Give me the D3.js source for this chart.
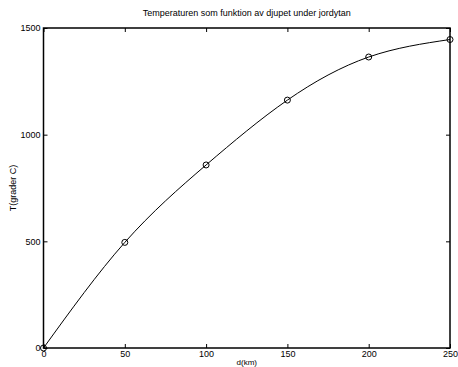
<!DOCTYPE html>
<html>
<head>
<meta charset="utf-8">
<script src="https://cdn.jsdelivr.net/npm/d3@7"></script>
<style>
  body { margin: 0; background: #fff; }
  svg { display: block; font-family: "Liberation Sans", Arial, sans-serif; }
</style>
</head>
<body>
<div id="chart"></div>
<script>
// depth (km) and temperature (grader C)
let depth = [0, 50, 100, 150, 200, 250]
let temp = [0, 495, 858, 1162, 1364, 1446]
let xTicks = [0, 50, 100, 150, 200, 250]
let yTicks = [0, 500, 1000, 1500]

let width = 458, height = 367
let margin = { left: 43.5, right: 8, top: 28, bottom: 19 }

let svg = d3.select('#chart').append('svg')
            .attr('width', width)
            .attr('height', height)

let x = d3.scaleLinear().domain([0, 250]).range([margin.left, width - margin.right])
let y = d3.scaleLinear().domain([0, 1500]).range([height - margin.bottom, margin.top])

let data = depth.map((d, i) => ({ d: d, t: temp[i] }))

// ticks inward, matlab style
let tickLen = 4
let fmt = d3.format('d')
svg.append('g')
   .attr('transform', 'translate(0,' + y(0) + ')')
   .call(d3.axisBottom(x).tickValues(xTicks).tickFormat(fmt).tickSizeInner(-tickLen).tickSizeOuter(0).tickPadding(3))
svg.append('g')
   .attr('transform', 'translate(0,' + y(1500) + ')')
   .call(d3.axisTop(x).tickValues(xTicks).tickSizeInner(-tickLen).tickSizeOuter(0).tickFormat(''))
svg.append('g')
   .attr('transform', 'translate(' + x(0) + ',0)')
   .call(d3.axisLeft(y).tickValues(yTicks).tickFormat(fmt).tickSizeInner(-tickLen).tickSizeOuter(0).tickPadding(3))
svg.append('g')
   .attr('transform', 'translate(' + x(250) + ',0)')
   .call(d3.axisRight(y).tickValues(yTicks).tickSizeInner(-tickLen).tickSizeOuter(0).tickFormat(''))

svg.selectAll('.domain').remove()
svg.selectAll('.tick line').attr('stroke', '#000')
svg.selectAll('.tick text').attr('fill', '#000').style('font-size', '9px')

svg.append('rect')
   .attr('x', x(0)).attr('y', y(1500))
   .attr('width', x(250) - x(0)).attr('height', y(0) - y(1500))
   .attr('fill', 'none').attr('stroke', '#000').attr('stroke-width', 1.5)

let line = d3.line()
             .x(d => x(d.d))
             .y(d => y(d.t))
             .curve(d3.curveNatural)

svg.append('path')
   .datum(data)
   .attr('d', line)
   .attr('fill', 'none')
   .attr('stroke', '#000')
   .attr('stroke-width', 1)

svg.selectAll('circle.pt')
   .data(data)
   .enter()
   .append('circle')
   .attr('class', 'pt')
   .attr('cx', d => x(d.d))
   .attr('cy', d => y(d.t))
   .attr('r', 3)
   .attr('fill', 'none')
   .attr('stroke', '#000')
   .attr('stroke-width', 1)

svg.append('text')
   .attr('x', (x(0) + x(250)) / 2)
   .attr('y', 16)
   .attr('text-anchor', 'middle')
   .style('font-size', '9px')
   .text('Temperaturen som funktion av djupet under jordytan')

svg.append('text')
   .attr('x', (x(0) + x(250)) / 2)
   .attr('y', 365)
   .attr('text-anchor', 'middle')
   .style('font-size', '8px')
   .text('d(km)')

svg.append('text')
   .attr('transform', 'translate(16,' + ((y(0) + y(1500)) / 2) + ') rotate(-90)')
   .attr('text-anchor', 'middle')
   .style('font-size', '9px')
   .text('T(grader C)')
</script>
</body>
</html>
